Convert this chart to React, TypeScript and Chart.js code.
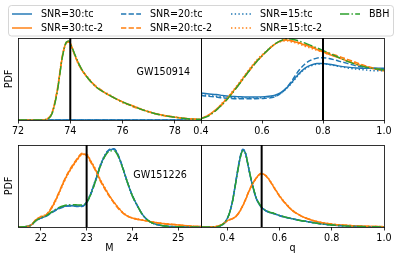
import React, { useEffect, useRef } from 'react';
import { Chart, registerables } from 'chart.js';

Chart.register(...registerables);

// ---------- data ----------
const SERIES = ['SNR=30:tc', 'SNR=30:tc-2', 'SNR=20:tc', 'SNR=20:tc-2', 'SNR=15:tc', 'SNR=15:tc-2', 'BBH'];

// GW150914, chirp mass M
const m150914 = [72, 72.9, 73.1, 73.3, 73.5, 73.7, 73.85, 73.95, 74.05, 74.2, 74.4, 74.7, 75.0, 75.5, 76.0, 76.5, 77.0, 77.5, 78.0, 78.5, 79.0];
const m150914_30tc = [0, 0, 0, 0, 0, 0, 0, 0, 0, 0, 0, 0, 0, 0, 0, 0, 0, 0, 0, 0, 0];
const m150914_30tc2 = [0, 0, 0.01, 0.08, 0.35, 0.78, 0.95, 0.96, 0.9, 0.77, 0.63, 0.5, 0.4, 0.3, 0.22, 0.16, 0.1, 0.06, 0.035, 0.015, 0.007];
const m150914_20tc = [0, 0, 0, 0, 0, 0, 0, 0, 0, 0, 0, 0, 0, 0, 0, 0, 0, 0, 0, 0, 0];
const m150914_20tc2 = [0, 0, 0.012, 0.09, 0.37, 0.79, 0.94, 0.95, 0.89, 0.77, 0.64, 0.5, 0.41, 0.3, 0.22, 0.15, 0.1, 0.06, 0.034, 0.016, 0.007];
const m150914_15tc = [0, 0, 0, 0, 0, 0, 0, 0, 0, 0, 0, 0, 0, 0, 0, 0, 0, 0, 0, 0, 0];
const m150914_15tc2 = [0, 0, 0.01, 0.085, 0.36, 0.77, 0.94, 0.955, 0.9, 0.76, 0.63, 0.51, 0.4, 0.31, 0.21, 0.16, 0.1, 0.055, 0.035, 0.015, 0.006];
const m150914_bbh = [0, 0, 0.008, 0.075, 0.34, 0.77, 0.95, 0.965, 0.9, 0.78, 0.64, 0.5, 0.4, 0.3, 0.22, 0.155, 0.1, 0.06, 0.033, 0.015, 0.007];

// GW150914, mass ratio q
const q150914 = [0.4, 0.42, 0.45, 0.47, 0.49, 0.52, 0.55, 0.58, 0.61, 0.64, 0.66, 0.68, 0.7, 0.72, 0.74, 0.76, 0.78, 0.8, 0.82, 0.85, 0.88, 0.91, 0.94, 0.97, 1.0];
const q150914_30tc = [0.33, 0.32, 0.31, 0.3, 0.29, 0.285, 0.28, 0.28, 0.285, 0.3, 0.33, 0.39, 0.47, 0.56, 0.63, 0.67, 0.69, 0.69, 0.68, 0.66, 0.645, 0.635, 0.63, 0.63, 0.63];
const q150914_30tc2 = [0.02, 0.05, 0.13, 0.2, 0.28, 0.42, 0.57, 0.71, 0.82, 0.92, 0.96, 0.975, 0.96, 0.94, 0.915, 0.89, 0.86, 0.83, 0.8, 0.76, 0.72, 0.68, 0.65, 0.62, 0.6];
const q150914_20tc = [0.3, 0.29, 0.28, 0.27, 0.265, 0.26, 0.26, 0.26, 0.265, 0.28, 0.32, 0.39, 0.49, 0.6, 0.68, 0.73, 0.755, 0.76, 0.75, 0.72, 0.69, 0.66, 0.64, 0.63, 0.62];
const q150914_20tc2 = [0.02, 0.045, 0.12, 0.19, 0.27, 0.41, 0.56, 0.7, 0.82, 0.92, 0.965, 0.98, 0.965, 0.945, 0.925, 0.9, 0.87, 0.84, 0.815, 0.78, 0.74, 0.7, 0.66, 0.63, 0.61];
const q150914_15tc = [0.31, 0.3, 0.29, 0.285, 0.275, 0.27, 0.27, 0.27, 0.275, 0.29, 0.32, 0.38, 0.46, 0.55, 0.62, 0.66, 0.68, 0.685, 0.675, 0.655, 0.635, 0.62, 0.61, 0.6, 0.6];
const q150914_15tc2 = [0.025, 0.05, 0.13, 0.21, 0.29, 0.43, 0.58, 0.72, 0.83, 0.92, 0.955, 0.965, 0.95, 0.93, 0.9, 0.875, 0.85, 0.825, 0.8, 0.765, 0.73, 0.69, 0.655, 0.625, 0.6];
const q150914_bbh = [0.02, 0.04, 0.12, 0.19, 0.27, 0.41, 0.56, 0.7, 0.82, 0.92, 0.965, 0.99, 0.985, 0.965, 0.94, 0.91, 0.88, 0.85, 0.815, 0.765, 0.715, 0.675, 0.645, 0.625, 0.61];

// GW151226, chirp mass M
const m151226 = [21.5, 21.7, 21.8, 21.9, 22.0, 22.1, 22.2, 22.3, 22.4, 22.5, 22.6, 22.7, 22.8, 22.9, 23.0, 23.1, 23.2, 23.3, 23.4, 23.5, 23.6, 23.7, 23.8, 23.9, 24.0, 24.1, 24.2, 24.3, 24.4, 24.5, 24.7, 25.0, 25.3, 25.5];
const m151226_30tc = [0, 0.005, 0.03, 0.08, 0.11, 0.13, 0.165, 0.2, 0.23, 0.25, 0.26, 0.26, 0.255, 0.255, 0.3, 0.42, 0.58, 0.75, 0.87, 0.94, 0.95, 0.86, 0.7, 0.53, 0.38, 0.27, 0.17, 0.1, 0.06, 0.035, 0.012, 0.003, 0, 0];
const m151226_30tc2 = [0, 0.005, 0.03, 0.09, 0.125, 0.14, 0.2, 0.3, 0.42, 0.55, 0.66, 0.75, 0.83, 0.89, 0.88, 0.79, 0.69, 0.57, 0.47, 0.38, 0.3, 0.23, 0.17, 0.13, 0.11, 0.095, 0.085, 0.075, 0.065, 0.055, 0.04, 0.025, 0.01, 0.005];
const m151226_20tc = [0, 0.006, 0.032, 0.082, 0.11, 0.128, 0.16, 0.195, 0.225, 0.245, 0.255, 0.255, 0.25, 0.25, 0.295, 0.41, 0.57, 0.74, 0.87, 0.945, 0.955, 0.865, 0.71, 0.535, 0.385, 0.27, 0.17, 0.1, 0.058, 0.034, 0.012, 0.003, 0, 0];
const m151226_20tc2 = [0, 0.006, 0.035, 0.095, 0.12, 0.14, 0.21, 0.31, 0.43, 0.56, 0.67, 0.76, 0.84, 0.9, 0.87, 0.78, 0.68, 0.56, 0.46, 0.37, 0.29, 0.22, 0.165, 0.13, 0.11, 0.095, 0.085, 0.075, 0.065, 0.055, 0.04, 0.025, 0.01, 0.005];
const m151226_15tc = [0, 0.005, 0.028, 0.078, 0.108, 0.13, 0.168, 0.205, 0.235, 0.255, 0.262, 0.262, 0.258, 0.26, 0.305, 0.43, 0.59, 0.76, 0.88, 0.945, 0.945, 0.855, 0.695, 0.525, 0.375, 0.265, 0.168, 0.1, 0.06, 0.035, 0.012, 0.003, 0, 0];
const m151226_15tc2 = [0, 0.004, 0.028, 0.085, 0.13, 0.15, 0.2, 0.29, 0.41, 0.54, 0.65, 0.74, 0.82, 0.88, 0.885, 0.8, 0.7, 0.58, 0.48, 0.38, 0.3, 0.235, 0.175, 0.135, 0.11, 0.1, 0.088, 0.078, 0.066, 0.056, 0.042, 0.026, 0.011, 0.005];
const m151226_bbh = [0, 0.005, 0.03, 0.082, 0.112, 0.133, 0.17, 0.205, 0.24, 0.26, 0.27, 0.272, 0.27, 0.268, 0.3, 0.41, 0.57, 0.74, 0.86, 0.925, 0.93, 0.85, 0.7, 0.53, 0.38, 0.27, 0.17, 0.1, 0.06, 0.035, 0.012, 0.003, 0, 0];

// GW151226, mass ratio q
const q151226 = [0.3, 0.35, 0.37, 0.39, 0.4, 0.41, 0.42, 0.43, 0.44, 0.45, 0.46, 0.47, 0.48, 0.49, 0.5, 0.51, 0.52, 0.53, 0.54, 0.55, 0.56, 0.58, 0.6, 0.62, 0.65, 0.68, 0.7, 0.75, 0.8, 0.85, 0.9, 1.0];
const q151226_30tc = [0, 0, 0.01, 0.05, 0.1, 0.18, 0.31, 0.49, 0.68, 0.85, 0.94, 0.9, 0.75, 0.6, 0.47, 0.36, 0.29, 0.245, 0.215, 0.195, 0.18, 0.162, 0.14, 0.122, 0.1, 0.08, 0.07, 0.042, 0.025, 0.014, 0.007, 0];
const q151226_30tc2 = [0, 0.003, 0.015, 0.05, 0.075, 0.09, 0.1, 0.12, 0.15, 0.2, 0.26, 0.33, 0.41, 0.48, 0.54, 0.59, 0.63, 0.65, 0.645, 0.62, 0.58, 0.48, 0.38, 0.3, 0.2, 0.14, 0.11, 0.06, 0.035, 0.022, 0.012, 0.004];
const q151226_20tc = [0, 0, 0.01, 0.05, 0.1, 0.18, 0.31, 0.49, 0.69, 0.86, 0.95, 0.91, 0.75, 0.6, 0.47, 0.36, 0.29, 0.245, 0.213, 0.193, 0.178, 0.16, 0.138, 0.12, 0.1, 0.08, 0.07, 0.042, 0.025, 0.014, 0.007, 0];
const q151226_20tc2 = [0, 0.003, 0.016, 0.052, 0.077, 0.092, 0.102, 0.122, 0.155, 0.205, 0.265, 0.335, 0.415, 0.485, 0.545, 0.595, 0.635, 0.655, 0.645, 0.615, 0.575, 0.475, 0.375, 0.295, 0.2, 0.14, 0.11, 0.06, 0.035, 0.022, 0.012, 0.004];
const q151226_15tc = [0, 0, 0.01, 0.048, 0.098, 0.178, 0.305, 0.485, 0.675, 0.845, 0.935, 0.895, 0.755, 0.605, 0.475, 0.365, 0.295, 0.25, 0.218, 0.197, 0.182, 0.163, 0.141, 0.123, 0.1, 0.08, 0.07, 0.042, 0.025, 0.014, 0.007, 0];
const q151226_15tc2 = [0, 0.004, 0.017, 0.05, 0.072, 0.088, 0.1, 0.118, 0.148, 0.195, 0.255, 0.325, 0.405, 0.475, 0.535, 0.585, 0.625, 0.645, 0.645, 0.625, 0.585, 0.485, 0.385, 0.305, 0.205, 0.14, 0.112, 0.062, 0.036, 0.023, 0.013, 0.004];
const q151226_bbh = [0, 0, 0.01, 0.05, 0.1, 0.18, 0.3, 0.48, 0.67, 0.84, 0.93, 0.9, 0.76, 0.61, 0.48, 0.37, 0.3, 0.25, 0.22, 0.2, 0.185, 0.166, 0.143, 0.124, 0.1, 0.08, 0.07, 0.042, 0.025, 0.014, 0.007, 0];

// axis ticks and true values
const ticksM150914 = [72, 74, 76, 78];
const ticksQ150914 = [0.4, 0.6, 0.8, 1.0];
const ticksM151226 = [22, 23, 24, 25];
const ticksQ151226 = [0.4, 0.6, 0.8, 1.0];
const truthM150914 = 74;
const truthQ150914 = 0.8;
const truthM151226 = 23.0;
const truthQ151226 = 0.532;

// ---------- styles ----------
const W = 399;
const H = 261;
const FONT = '"DejaVu Sans", "Liberation Sans", sans-serif';
const FS = 9.6;
const XAXIS_H = 30;
const COLORS = ['#1f77b4', '#ff7f0e', '#1f77b4', '#ff7f0e', '#1f77b4', '#ff7f0e', '#2ca02c'];
const DASHES: number[][] = [[], [], [5.3, 2.3], [5.3, 2.3], [1.4, 2.3], [1.4, 2.3], [9.2, 2.3, 1.4, 2.3]];
const LEG_TEXT_X = [41, 150, 260, 369];

type PanelDef = {
  xs: number[];
  ys: number[][];
  min: number;
  max: number;
  ticks: number[];
  decimals: number;
  truth: number;
  area: { left: number; right: number; top: number; bottom: number };
  ylabel: boolean;
  xlabel: string;
  note?: string;
  noteAt?: [number, number];
  legend?: boolean;
};

const PANELS: PanelDef[] = [
  {
    xs: m150914,
    ys: [m150914_30tc, m150914_30tc2, m150914_20tc, m150914_20tc2, m150914_15tc, m150914_15tc2, m150914_bbh],
    min: 72, max: 79, ticks: ticksM150914, decimals: 0, truth: truthM150914,
    area: { left: 18, right: 201, top: 38, bottom: 120 },
    ylabel: true, xlabel: '', note: 'GW150914', noteAt: [0.648, 0.417],
  },
  {
    xs: q150914,
    ys: [q150914_30tc, q150914_30tc2, q150914_20tc, q150914_20tc2, q150914_15tc, q150914_15tc2, q150914_bbh],
    min: 0.4, max: 1.0, ticks: ticksQ150914, decimals: 1, truth: truthQ150914,
    area: { left: 201, right: 384, top: 38, bottom: 120 },
    ylabel: false, xlabel: '',
  },
  {
    xs: m151226,
    ys: [m151226_30tc, m151226_30tc2, m151226_20tc, m151226_20tc2, m151226_15tc, m151226_15tc2, m151226_bbh],
    min: 21.5, max: 25.5, ticks: ticksM151226, decimals: 0, truth: truthM151226,
    area: { left: 18, right: 201, top: 145, bottom: 227 },
    ylabel: true, xlabel: 'M', note: 'GW151226', noteAt: [0.63, 0.376],
  },
  {
    xs: q151226,
    ys: [q151226_30tc, q151226_30tc2, q151226_20tc, q151226_20tc2, q151226_15tc, q151226_15tc2, q151226_bbh],
    min: 0.3, max: 1.0, ticks: ticksQ151226, decimals: 1, truth: truthQ151226,
    area: { left: 201, right: 384, top: 145, bottom: 227 },
    ylabel: false, xlabel: 'q', legend: true,
  },
];

// ---------- plugins ----------
const framePlugin = {
  id: 'frame',
  afterDraw(chart: any) {
    const { ctx, chartArea: a } = chart;
    ctx.save();
    ctx.strokeStyle = '#000';
    ctx.lineWidth = 0.8;
    ctx.strokeRect(Math.round(a.left) + 0.5, Math.round(a.top) + 0.5, Math.round(a.right) - Math.round(a.left), Math.round(a.bottom) - Math.round(a.top));
    const note = chart.options.plugins.note;
    if (note && note.text) {
      ctx.fillStyle = '#000';
      ctx.font = `${FS}px ${FONT}`;
      ctx.textAlign = 'left';
      ctx.textBaseline = 'middle';
      ctx.fillText(note.text, a.left + note.at[0] * (a.right - a.left), a.top + note.at[1] * (a.bottom - a.top));
    }
    ctx.restore();
  },
};

const legendPlugin = {
  id: 'figLegend',
  afterDraw(chart: any) {
    if (!chart.options.plugins.figLegend || !chart.options.plugins.figLegend.show) return;
    const ctx = chart.ctx;
    ctx.save();
    ctx.beginPath();
    (ctx as any).roundRect(8.5, 5.5, 385, 30.5, 3);
    ctx.fillStyle = 'rgba(255,255,255,0.8)';
    ctx.fill();
    ctx.strokeStyle = '#cccccc';
    ctx.lineWidth = 0.8;
    ctx.stroke();
    ctx.font = `${FS}px ${FONT}`;
    ctx.textAlign = 'left';
    ctx.textBaseline = 'middle';
    SERIES.forEach((name, i) => {
      const col = Math.floor(i / 2);
      const row = i % 2;
      const tx = LEG_TEXT_X[col];
      const y = 14 + row * 14;
      ctx.beginPath();
      ctx.setLineDash(DASHES[i]);
      ctx.strokeStyle = COLORS[i];
      ctx.lineWidth = 1.45;
      ctx.moveTo(tx - 29, y);
      ctx.lineTo(tx - 9, y);
      ctx.stroke();
      ctx.setLineDash([]);
      ctx.fillStyle = '#000';
      ctx.fillText(name, tx, y);
    });
    ctx.restore();
  },
};

function buildConfig(p: PanelDef): any {
  const datasets: any[] = SERIES.map((name, i) => ({
    label: name,
    data: p.xs.map((x, j) => ({ x, y: p.ys[i][j] })),
    borderColor: COLORS[i],
    borderWidth: 1.45,
    borderDash: DASHES[i],
    pointRadius: 0,
    fill: false,
    cubicInterpolationMode: 'monotone',
    order: 10 - i,
  }));
  datasets.push({
    label: 'truth',
    data: [{ x: p.truth, y: 0 }, { x: p.truth, y: 1 }],
    borderColor: '#000',
    borderWidth: 2,
    pointRadius: 0,
    fill: false,
    order: 0,
  });
  const a = p.area;
  return {
    type: 'line',
    data: { datasets },
    plugins: [framePlugin, legendPlugin],
    options: {
      animation: false,
      responsive: false,
      devicePixelRatio: 1,
      events: [],
      layout: {
        padding: {
          left: p.ylabel ? 0 : a.left,
          right: W - a.right,
          top: a.top,
          bottom: H - a.bottom - XAXIS_H,
        },
      },
      plugins: {
        legend: { display: false },
        tooltip: { enabled: false },
        note: { text: p.note || '', at: p.noteAt || [0, 0] },
        figLegend: { show: !!p.legend },
      },
      scales: {
        x: {
          type: 'linear',
          min: p.min,
          max: p.max,
          afterBuildTicks: (s: any) => {
            s.ticks = p.ticks.map((v) => ({ value: v }));
          },
          afterFit: (s: any) => {
            s.height = XAXIS_H;
          },
          ticks: {
            callback: (v: any) => Number(v).toFixed(p.decimals),
            font: { family: FONT, size: FS },
            color: '#000',
            padding: 2,
            maxRotation: 0,
            autoSkip: false,
          },
          grid: { drawOnChartArea: false, drawTicks: true, tickLength: 3.5, color: '#000', lineWidth: 0.8 },
          border: { display: false },
          title: {
            display: !!p.xlabel,
            text: p.xlabel,
            color: '#000',
            font: { family: FONT, size: FS },
            padding: { top: 0, bottom: 3 },
          },
        },
        y: {
          type: 'linear',
          min: 0,
          max: 1,
          display: p.ylabel,
          afterFit: (s: any) => {
            s.width = p.ylabel ? a.left : 0;
          },
          ticks: { display: false },
          grid: { display: false },
          border: { display: false },
          title: {
            display: p.ylabel,
            text: 'PDF',
            color: '#000',
            font: { family: FONT, size: FS },
            padding: { top: 4, bottom: 4 },
          },
        },
      },
    },
  };
}

function Panel({ def }: { def: PanelDef }) {
  const ref = useRef<HTMLCanvasElement | null>(null);
  useEffect(() => {
    if (!ref.current) return;
    const chart = new Chart(ref.current, buildConfig(def));
    return () => chart.destroy();
  }, [def]);
  return (
    <canvas
      ref={ref}
      width={W}
      height={H}
      style={{ position: 'absolute', left: 0, top: 0, width: W, height: H }}
    />
  );
}

export default function App() {
  return (
    <div style={{ position: 'fixed', left: 0, top: 0, width: W, height: H, background: '#fff' }}>
      {PANELS.map((p, i) => (
        <Panel key={i} def={p} />
      ))}
    </div>
  );
}
